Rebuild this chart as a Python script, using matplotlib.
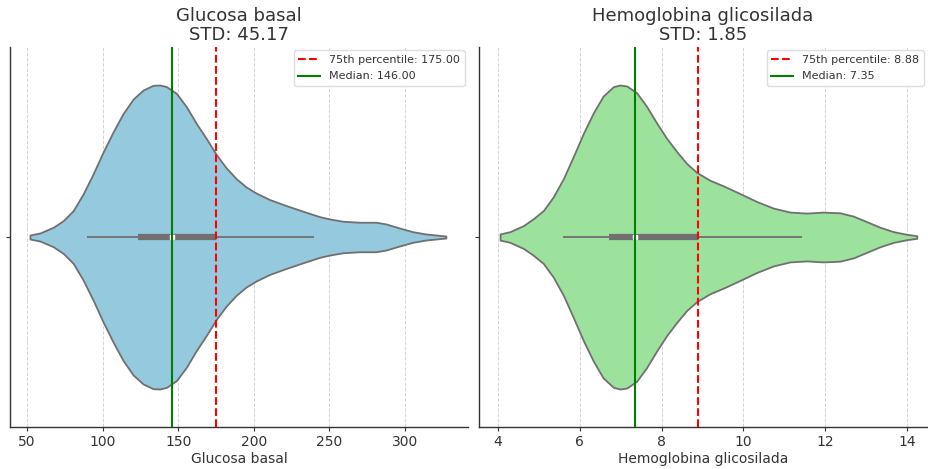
import matplotlib
matplotlib.use("Agg")
import matplotlib.pyplot as plt
import numpy as np

# violin outline: value -> half width in pixels (widest ~151)
glu_x = [52.0, 58.6, 67.4, 74.0, 80.6, 87.2, 93.8, 100.4, 107.0, 113.6, 120.2,
         126.8, 133.4, 137.8, 142.2, 148.8, 155.4, 162.0, 168.6, 175.2, 181.8,
         188.4, 195.0, 201.6, 210.4, 221.4, 232.4, 243.4, 250.0, 258.8, 269.8,
         280.8, 287.4, 296.2, 305.0, 313.8, 320.4, 327.0]
glu_w = [2, 4, 9.7, 16.3, 26.3, 43, 63, 84.7, 104.7, 123, 137.3,
         146.3, 151, 151.3, 149.7, 143, 129.7, 113, 98, 82, 68.7,
         58, 49.7, 43.7, 37.3, 31.3, 25.7, 20.3, 18, 15.7, 14.7,
         14.7, 13, 9, 5.3, 3, 2, 1]
hba_x = [4.05, 4.29, 4.62, 4.86, 5.11, 5.35, 5.60, 5.84, 6.09, 6.33, 6.57,
         6.82, 6.98, 7.15, 7.39, 7.63, 7.88, 8.12, 8.37, 8.61, 8.86, 9.18,
         9.51, 9.92, 10.32, 10.73, 11.14, 11.55, 11.95, 12.36, 12.69, 13.01,
         13.34, 13.67, 13.99, 14.24]
hba_w = [3, 5.3, 11.3, 18, 26.3, 39.7, 58, 79.7, 103, 123, 139.7,
         149, 150.7, 149.7, 143, 129.7, 113, 98, 84.7, 73, 64, 56.3,
         50.7, 43, 35.3, 28.7, 24.7, 23.7, 24.7, 24, 20.7, 15.3,
         9.7, 5.3, 2.7, 1.3]

# box stats: whisker low, q1, median, q3, whisker high
glu_box = [89.4, 123.5, 146.0, 175.0, 240.0]
hba_box = [5.58, 6.72, 7.35, 8.88, 11.43]
glu_std = 45.17
hba_std = 1.85

names = ["Glucosa basal", "Hemoglobina glicosilada"]
txt = "#333333"
edge = "#707070"

fig = plt.figure(figsize=(9.29, 4.69), dpi=100)
ax1 = fig.add_axes([10 / 929, 42 / 469, 458 / 929, 380 / 469])
ax2 = fig.add_axes([479 / 929, 42 / 469, 448 / 929, 380 / 469])


def draw(ax, xs, ws, box, std, name, fill, xlim, ticks, fmt):
    xs = np.array(xs)
    ws = np.array(ws) / max(ws) * 0.4
    ax.fill_between(xs, -ws, ws, facecolor=fill, edgecolor=edge, linewidth=1.3, zorder=2)
    lo, q1, med, q3, hi = box
    ax.plot([lo, hi], [0, 0], color=edge, lw=1.3, zorder=3, solid_capstyle="butt")
    ax.plot([q1, q3], [0, 0], color=edge, lw=4.5, zorder=3, solid_capstyle="butt")
    ax.scatter([med], [0], s=7, color="white", marker="s", zorder=4)
    ax.axvline(q3, color="red", ls="--", lw=1.5, zorder=5,
               label="75th percentile: " + fmt.format(q3))
    ax.axvline(med, color="green", ls="-", lw=1.5, zorder=5,
               label="Median: " + fmt.format(med))
    ax.set_xlim(*xlim)
    ax.set_ylim(-0.5, 0.5)
    ax.set_xticks(ticks)
    ax.set_yticks([0])
    ax.set_yticklabels([""])
    ax.grid(axis="x", ls="--", color="#d5d5d5", lw=0.7, zorder=0)
    ax.set_axisbelow(True)
    for s in ["top", "right"]:
        ax.spines[s].set_visible(False)
    for s in ["left", "bottom"]:
        ax.spines[s].set_color("#333333")
        ax.spines[s].set_linewidth(1.0)
    ax.tick_params(labelsize=10, colors=txt, length=3, pad=3)
    ax.set_xlabel(name, fontsize=10, color=txt, labelpad=2)
    ax.set_title(name + "\nSTD: {:.2f}".format(std), fontsize=13, color=txt,
                 linespacing=1.05, pad=5)
    leg = ax.legend(loc="upper right", fontsize=8, frameon=True, framealpha=1,
                    borderaxespad=0.3, labelspacing=0.6)
    leg.get_frame().set_edgecolor("#dddddd")
    for t in leg.get_texts():
        t.set_color(txt)


draw(ax1, glu_x, glu_w, glu_box, glu_std, names[0], "#94C9DE",
     (38.8, 341.6), [50, 100, 150, 200, 250, 300], "{:.2f}")
draw(ax2, hba_x, hba_w, hba_box, hba_std, names[1], "#9CE29C",
     (3.535, 14.49), [4, 6, 8, 10, 12, 14], "{:.2f}")

fig.savefig("out.png", dpi=100)
